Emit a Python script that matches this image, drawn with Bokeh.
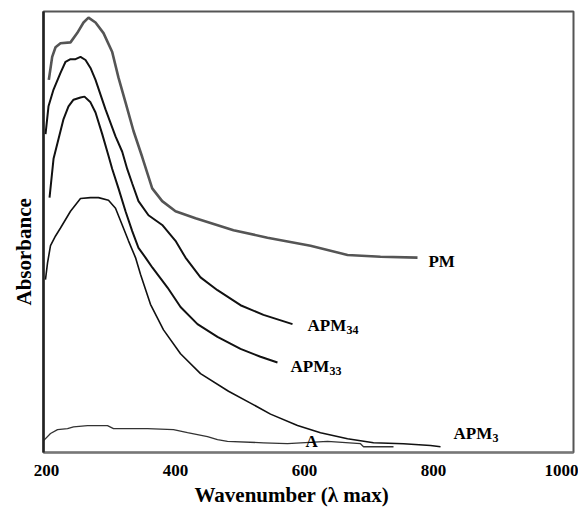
from bokeh.plotting import figure
from bokeh.models import Range1d, FixedTicker, ColumnDataSource, Title
from bokeh.core.properties import value
from bokeh.embed import file_html
from bokeh.resources import INLINE

# ---- data (wavelength in nm, absorbance in arbitrary units) ----
pm_x = [203.6, 208.8, 214.0, 221.7, 237.2, 247.6, 257.4, 265.1, 276.0, 288.4, 301.9, 311.6,
        322.5, 334.9, 348.4, 363.9, 379.4, 400.0, 431.0, 489.9, 542.6, 609.3, 666.7, 717.8, 775.2]
pm_y = [0.845, 0.897, 0.919, 0.928, 0.930, 0.951, 0.975, 0.986, 0.975, 0.951, 0.908, 0.850,
        0.794, 0.729, 0.670, 0.599, 0.570, 0.547, 0.531, 0.504, 0.487, 0.469, 0.448, 0.444, 0.442]

apm34_x = [198.5, 203.1, 210.9, 221.7, 229.5, 237.2, 245.0, 252.7, 260.5, 268.2, 276.0, 291.5,
           307.0, 317.4, 325.1, 332.9, 342.6, 358.1, 379.4, 400.0, 415.5, 438.8, 465.1, 500.8,
           536.4, 581.4]
apm34_y = [0.722, 0.785, 0.823, 0.861, 0.886, 0.892, 0.892, 0.897, 0.890, 0.872, 0.845, 0.778,
           0.717, 0.682, 0.643, 0.610, 0.570, 0.538, 0.516, 0.480, 0.442, 0.397, 0.368, 0.334,
           0.312, 0.291]

apm33_x = [204.7, 210.9, 218.6, 226.4, 234.1, 241.9, 252.7, 258.9, 268.2, 276.0, 286.4, 296.1,
           301.9, 311.6, 322.5, 332.9, 342.6, 353.5, 364.3, 387.6, 407.8, 434.1, 465.1, 500.8,
           531.8, 558.1]
apm33_y = [0.578, 0.666, 0.711, 0.756, 0.785, 0.800, 0.805, 0.807, 0.794, 0.771, 0.722, 0.673,
           0.643, 0.599, 0.547, 0.502, 0.464, 0.442, 0.419, 0.374, 0.330, 0.291, 0.262, 0.235,
           0.217, 0.204]

apm3_x = [198.4, 201.6, 206.2, 214.0, 221.7, 237.2, 252.7, 268.2, 280.6, 296.1, 307.0, 317.4,
          327.1, 338.0, 345.7, 361.2, 381.4, 407.8, 438.8, 482.2, 516.3, 547.3, 589.2, 624.8,
          666.7, 707.0, 753.5, 795.4, 810.9]
apm3_y = [0.392, 0.430, 0.469, 0.491, 0.509, 0.547, 0.576, 0.578, 0.578, 0.572, 0.554, 0.516,
          0.480, 0.442, 0.404, 0.336, 0.278, 0.224, 0.179, 0.139, 0.112, 0.087, 0.061, 0.045,
          0.031, 0.022, 0.020, 0.016, 0.013]

a_x = [195.5, 206.2, 217.1, 232.6, 241.9, 263.6, 294.6, 303.9, 356.6, 396.9, 418.6, 449.6,
       465.1, 480.6, 536.4, 573.6, 635.7, 686.8, 691.5, 738.0]
a_y = [0.027, 0.043, 0.052, 0.054, 0.058, 0.061, 0.061, 0.054, 0.054, 0.052, 0.045, 0.036,
       0.029, 0.025, 0.022, 0.020, 0.025, 0.020, 0.013, 0.013]

label_main = ["PM", "APM", "APM", "APM", "A"]
label_sub = ["", "34", "33", "3", ""]
label_x = [792.2, 604.6, 578.3, 831.0, 601.5]
label_y = [0.434, 0.287, 0.195, 0.043, 0.024]

x_ticks = [200, 400, 600, 800, 1000]
x_title = "Wavenumber (λ max)"
y_title = "Absorbance"

FONT = "Liberation Serif"

p = figure(width=578, height=508, output_backend="svg", toolbar_location=None,
           x_range=Range1d(195.35, 1017.06), y_range=Range1d(0, 1.0),
           min_border_left=43, min_border_right=5, min_border_top=11, min_border_bottom=20)
p.background_fill_color = "white"
p.border_fill_color = "white"
p.grid.visible = False
p.outline_line_color = "#555555"
p.outline_line_width = 2

# axes
p.xaxis.ticker = FixedTicker(ticks=x_ticks)
p.xaxis.major_tick_line_color = None
p.xaxis.minor_tick_line_color = None
p.xaxis.axis_line_color = "#777777"
p.xaxis.axis_line_width = 2
p.xaxis.major_label_text_font = FONT
p.xaxis.major_label_text_font_style = "bold"
p.xaxis.major_label_text_font_size = "17px"
p.xaxis.major_label_text_color = "black"
p.xaxis.major_label_standoff = 6

p.yaxis.ticker = FixedTicker(ticks=[])
p.yaxis.major_tick_line_color = None
p.yaxis.minor_tick_line_color = None
p.yaxis.axis_line_color = "#222222"
p.yaxis.axis_line_width = 2.5

# axis titles
p.add_layout(Title(text=x_title, align="left", offset=151, standoff=4,
                   text_font=FONT, text_font_style="bold", text_font_size="21px",
                   text_color="black"), "below")
p.add_layout(Title(text=y_title, align="left", offset=147, standoff=16,
                   text_font=FONT, text_font_style="bold", text_font_size="21px",
                   text_color="black"), "left")

# curves
p.line(pm_x, pm_y, line_color="#555555", line_width=2.6)
p.line(apm34_x, apm34_y, line_color="#111111", line_width=2)
p.line(apm33_x, apm33_y, line_color="#111111", line_width=2)
p.line(apm3_x, apm3_y, line_color="#111111", line_width=1.6)
p.line(a_x, a_y, line_color="#333333", line_width=1.3)

src = ColumnDataSource(dict(x=label_x, y=label_y, main=label_main, sub=label_sub))
p.text(x="x", y="y", text="main", source=src, text_font=value(FONT), text_font_style="bold",
       text_font_size="17px", text_color="black", text_align="left", text_baseline="middle")
p.text(x="x", y="y", text="sub", source=src, text_font=value(FONT), text_font_style="bold",
       text_font_size="12px", text_color="black", text_align="left", text_baseline="top",
       x_offset=39)

open("out.html", "w").write(file_html(p, INLINE))
